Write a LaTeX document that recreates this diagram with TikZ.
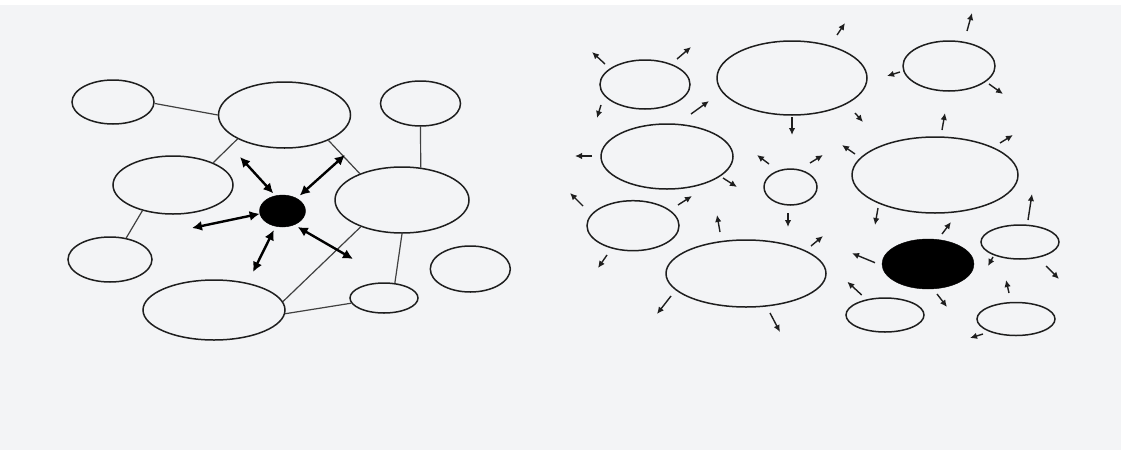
\documentclass[tikz,border=0pt]{standalone}
\usetikzlibrary{shapes.geometric,arrows.meta}
\definecolor{paper}{RGB}{243,244,246}
\definecolor{ink}{RGB}{30,30,30}
\tikzset{
  bub/.style={ellipse, draw=ink, line width=1.5pt, inner sep=0pt},
  dot/.style={ellipse, fill=black, draw=black, inner sep=0pt},
  link/.style={draw=ink!85, line width=1.2pt},
  darr/.style={draw=black, line width=2.4pt, {Latex[length=10pt,width=10pt]}-{Latex[length=10pt,width=10pt]}},
  sarr/.style={draw=ink, line width=1.4pt, -{Latex[length=7pt,width=6.5pt]}}
}
\begin{document}
\begin{tikzpicture}[x=1pt,y=-1pt]
\useasboundingbox (0,0) rectangle (1121,450);
\fill[paper] (0,0) rectangle (1121,450);
\fill[white] (0,0) rectangle (1121,5);

% ---------- left diagram ----------
\node[bub, minimum width=82pt, minimum height=44pt] (e1) at (113,102) {};
\node[bub, minimum width=132pt, minimum height=66pt] (e2) at (284.5,115) {};
\node[bub, minimum width=80pt, minimum height=45pt] (e3) at (420.5,103.5) {};
\node[bub, minimum width=120pt, minimum height=58pt] (e4) at (173,185) {};
\node[bub, minimum width=134pt, minimum height=66pt] (e5) at (402,200) {};
\node[dot, minimum width=46pt, minimum height=32pt] (d) at (282.5,211) {};
\node[bub, minimum width=84pt, minimum height=45pt] (e6) at (110,259.5) {};
\node[bub, minimum width=142pt, minimum height=60pt] (e7) at (214,310) {};
\node[bub, minimum width=68pt, minimum height=30pt] (e8) at (384,298) {};
\node[bub, minimum width=80pt, minimum height=46pt] (e9) at (470.3,269) {};

\draw[link] (e1.-2) -- (e2.180);
\draw[link] (e2.-153) -- (e4.29);
\draw[link] (e2.-30) -- (e5.148);
\draw[link] (e3.-90) -- (e5.60);
\draw[link] (e4.-140) -- (e6.53);
\draw[link] (e5.-90) -- (e8.54);
\draw[link] (e5.-147.5) -- (e7.7);
\draw[link] (e7.-3) -- (e8.189);

\coordinate (o1) at (240,157);
\coordinate (o2) at (345,155);
\coordinate (o3) at (192,228);
\coordinate (o4) at (253,272);
\coordinate (o5) at (353,259);
\draw[darr, shorten <=3pt] (d.115) -- (o1);
\draw[darr, shorten <=4pt] (d.42) -- (o2);
\draw[darr] (d.187) -- (o3);
\draw[darr, shorten <=4pt] (d.-114) -- (o4);
\draw[darr, shorten <=4pt] (d.-50) -- (o5);

% ---------- right diagram ----------
\node[bub, minimum width=90pt, minimum height=49pt] (r1) at (645,84.5) {};
\node[bub, minimum width=150pt, minimum height=74pt] (r2) at (792,78) {};
\node[bub, minimum width=132pt, minimum height=65pt] (r3) at (667,156.5) {};
\node[bub, minimum width=53pt, minimum height=36pt] (r4) at (790.5,187) {};
\node[bub, minimum width=92pt, minimum height=50pt] (r5) at (633,225.7) {};
\node[bub, minimum width=160pt, minimum height=67pt] (r6) at (746,273.5) {};
\node[bub, minimum width=92pt, minimum height=50pt] (r7) at (949,66) {};
\node[bub, minimum width=166pt, minimum height=76pt] (r8) at (935,175) {};
\node[dot, minimum width=92pt, minimum height=50pt] (r9) at (928,264) {};
\node[bub, minimum width=78pt, minimum height=34pt] (r10) at (1020,242) {};
\node[bub, minimum width=78pt, minimum height=34pt] (r11) at (885,315) {};
\node[bub, minimum width=78pt, minimum height=33pt] (r12) at (1016,319) {};

% arrows around r1
\draw[sarr] ([shift={(-40,-20.5)}]r1.center) -- ++(-13,-12);
\draw[sarr] ([shift={(32,-25.5)}]r1.center) -- ++(14,-12);
\draw[sarr] ([shift={(-44,20.5)}]r1.center) -- ++(-4,13);
\draw[sarr] ([shift={(46,29.5)}]r1.center) -- ++(18,-13);
% r2
\draw[sarr] ([shift={(0,39)}]r2.center) -- ++(0,18);
\draw[sarr] ([shift={(63,35)}]r2.center) -- ++(8,9);
\draw[sarr] ([shift={(45,-43)}]r2.center) -- ++(8,-12);
% r3
\draw[sarr] ([shift={(-75,-0.5)}]r3.center) -- ++(-17,0);
\draw[sarr] ([shift={(56,21.5)}]r3.center) -- ++(14,9);
% r4
\draw[sarr] ([shift={(-21.5,-23)}]r4.center) -- ++(-12,-9);
\draw[sarr] ([shift={(19.5,-24)}]r4.center) -- ++(13,-8);
\draw[sarr] ([shift={(-2.5,26)}]r4.center) -- ++(0,14);
% r5
\draw[sarr] ([shift={(-50,-19.7)}]r5.center) -- ++(-13,-13);
\draw[sarr] ([shift={(45,-20.7)}]r5.center) -- ++(14,-9);
\draw[sarr] ([shift={(-26,29.3)}]r5.center) -- ++(-9,13);
% r6
\draw[sarr] ([shift={(-26,-41.5)}]r6.center) -- ++(-3,-17);
\draw[sarr] ([shift={(65,-27.5)}]r6.center) -- ++(12,-10);
\draw[sarr] ([shift={(-75,22.5)}]r6.center) -- ++(-14,18);
\draw[sarr] ([shift={(24,39.5)}]r6.center) -- ++(10,19);
% r7
\draw[sarr] ([shift={(-49,6)}]r7.center) -- ++(-13,4);
\draw[sarr] ([shift={(40,18)}]r7.center) -- ++(14,10);
\draw[sarr] ([shift={(18,-35)}]r7.center) -- ++(5,-18);
% r8
\draw[sarr] ([shift={(-80,-21)}]r8.center) -- ++(-13,-9);
\draw[sarr] ([shift={(7,-45)}]r8.center) -- ++(3,-17);
\draw[sarr] ([shift={(65,-32)}]r8.center) -- ++(13,-8);
\draw[sarr] ([shift={(-57,33)}]r8.center) -- ++(-3,17);
% r9
\draw[sarr] ([shift={(-53,-1.3)}]r9.center) -- ++(-23,-9.5);
\draw[sarr] ([shift={(14,-30)}]r9.center) -- ++(9,-12);
\draw[sarr] ([shift={(9,30)}]r9.center) -- ++(10,13);
% r10
\draw[sarr] ([shift={(8,-22)}]r10.center) -- ++(4,-26);
\draw[sarr] ([shift={(-27,15)}]r10.center) -- ++(-5,9);
\draw[sarr] ([shift={(26,24)}]r10.center) -- ++(13,13);
% r11
\draw[sarr] ([shift={(-23.3,-20)}]r11.center) -- ++(-14.4,-13.3);
% r12
\draw[sarr] ([shift={(-7,-26)}]r12.center) -- ++(-3,-13);
\draw[sarr] ([shift={(-33,15)}]r12.center) -- ++(-13,4);
\end{tikzpicture}
\end{document}
